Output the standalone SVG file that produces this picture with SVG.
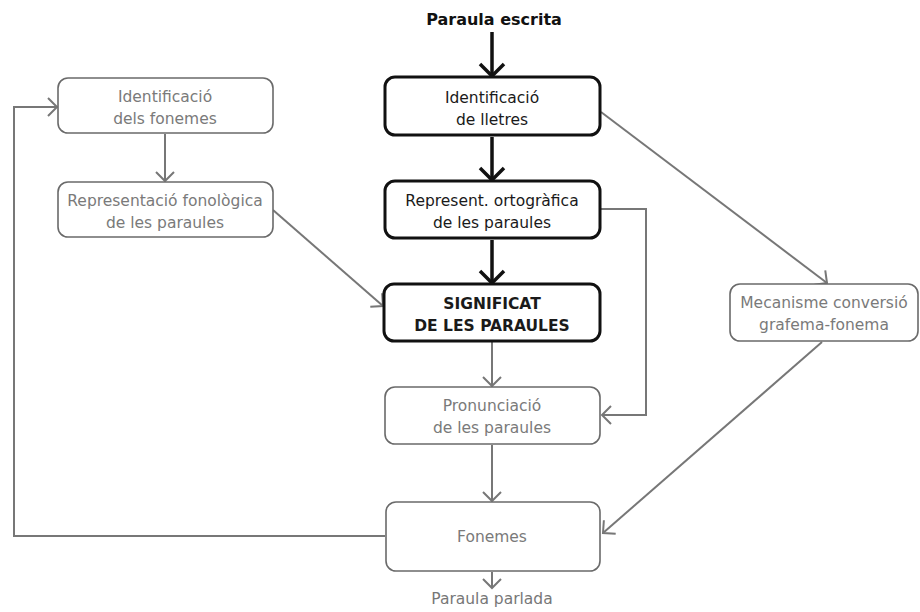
<svg xmlns="http://www.w3.org/2000/svg" width="920" height="612" viewBox="0 0 920 612">
<style>
.bk rect{fill:#fff;stroke:#111;stroke-width:3}
.gr rect{fill:#fff;stroke:#6a6a6a;stroke-width:1.6}
text{font-family:"DejaVu Sans",Verdana,sans-serif;font-size:15.5px;text-anchor:middle}
.bk text{fill:#1a1a1a}
.gr text{fill:#7a7a7a}
.b{font-weight:bold}
.cb{fill:none;stroke:#111;stroke-width:3.5}
.cg{fill:none;stroke:#777;stroke-width:2}
</style>
<defs>
<marker id="ab" markerUnits="userSpaceOnUse" markerWidth="30" markerHeight="30" refX="15" refY="15" orient="auto" viewBox="0 0 30 30"><path d="M3,3 L15,15 L3,27" fill="none" stroke="#111" stroke-width="3.5"/></marker>
<marker id="ag" markerUnits="userSpaceOnUse" markerWidth="24" markerHeight="24" refX="13" refY="12" orient="auto" viewBox="0 0 24 24"><path d="M4,3 L13,12 L4,21" fill="none" stroke="#777" stroke-width="2"/></marker>
</defs>
<text x="494" y="25" class="b" fill="#111" style="font-size:16px">Paraula escrita</text>
<text x="492" y="604" fill="#777">Paraula parlada</text>
<g id="connectors">
<path class="cb" d="M492,32 V76" marker-end="url(#ab)"/>
<path class="cb" d="M492,137 V180" marker-end="url(#ab)"/>
<path class="cb" d="M492,240 V283" marker-end="url(#ab)"/>
<path class="cg" d="M492,342 V386" marker-end="url(#ag)"/>
<path class="cg" d="M492,445 V501" marker-end="url(#ag)"/>
<path class="cg" d="M492,572 V588" marker-end="url(#ag)"/>
<path class="cg" d="M165,134 V181" marker-end="url(#ag)"/>
<path class="cg" d="M273,210 L383,306" marker-end="url(#ag)"/>
<path class="cg" d="M601,209 H646 V415 H602" marker-end="url(#ag)"/>
<path class="cg" d="M601,112 L827,283" marker-end="url(#ag)"/>
<path class="cg" d="M822,342 L603,533" marker-end="url(#ag)"/>
<path class="cg" d="M385,536 H14 V107 H57" marker-end="url(#ag)"/>
</g>
<g id="lletres" class="bk"><rect x="385" y="77" width="215" height="58" rx="10"/><text x="492" y="103">Identificació</text><text x="492" y="125">de lletres</text></g>
<g id="ortografica" class="bk"><rect x="385" y="181" width="215" height="57" rx="10"/><text x="492" y="206">Represent. ortogràfica</text><text x="492" y="228">de les paraules</text></g>
<g id="significat" class="bk"><rect x="384" y="284" width="216" height="57" rx="10"/><text x="492" y="309" class="b">SIGNIFICAT</text><text x="492" y="331" class="b">DE LES PARAULES</text></g>
<g id="pronunciacio" class="gr"><rect x="385" y="387" width="215" height="57" rx="10"/><text x="492" y="411">Pronunciació</text><text x="492" y="433">de les paraules</text></g>
<g id="fonemes" class="gr"><rect x="386" y="502" width="214" height="69" rx="10"/><text x="492" y="542">Fonemes</text></g>
<g id="identificacio-fonemes" class="gr"><rect x="58" y="78" width="215" height="55" rx="10"/><text x="165" y="102">Identificació</text><text x="165" y="124">dels fonemes</text></g>
<g id="fonologica" class="gr"><rect x="58" y="182" width="215" height="55" rx="10"/><text x="165" y="206">Representació fonològica</text><text x="165" y="228">de les paraules</text></g>
<g id="mecanisme" class="gr"><rect x="730" y="284" width="188" height="57" rx="10"/><text x="824" y="308">Mecanisme conversió</text><text x="824" y="330">grafema-fonema</text></g>
</svg>
